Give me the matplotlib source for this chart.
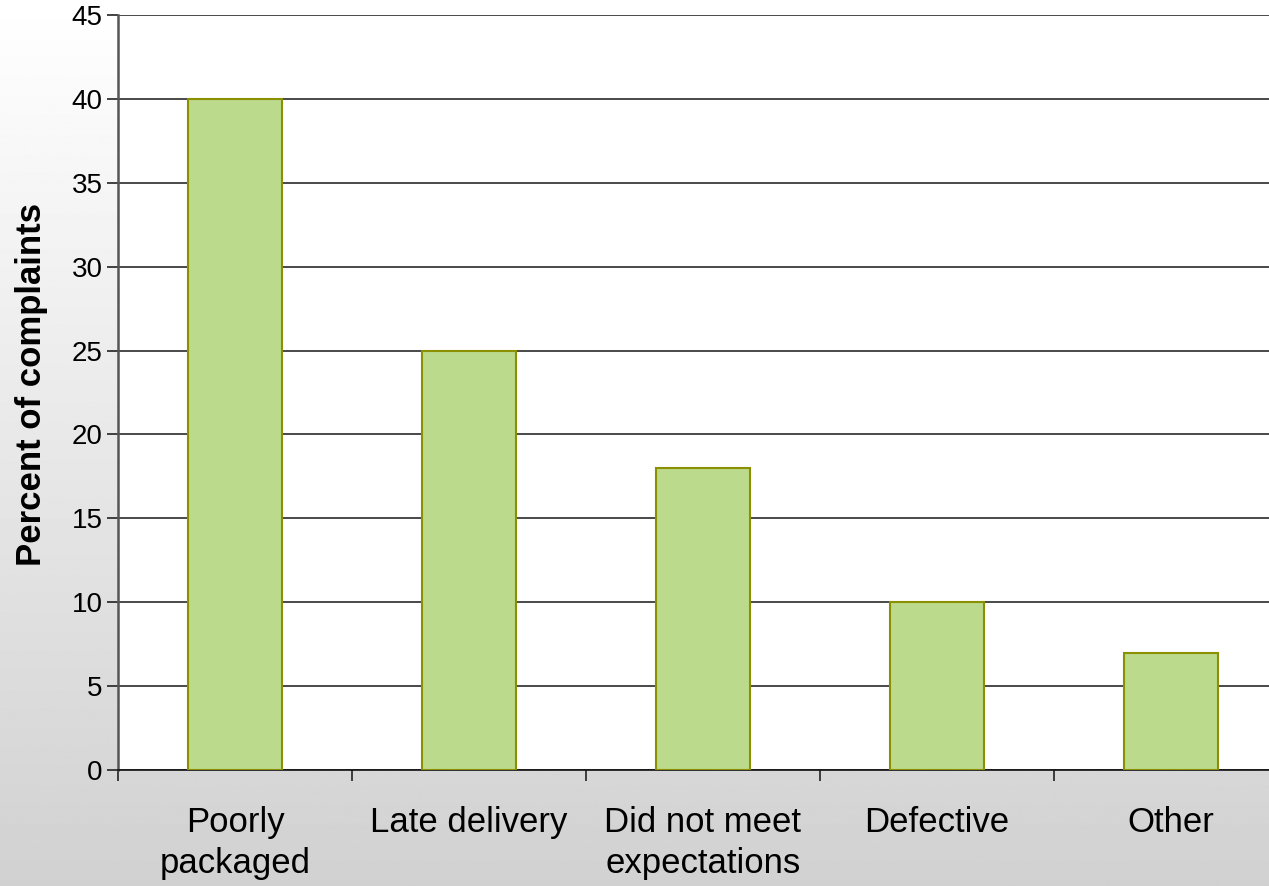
import matplotlib
matplotlib.use("Agg")
import matplotlib.pyplot as plt
import numpy as np

categories = ["Poorly\npackaged", "Late delivery", "Did not meet\nexpectations", "Defective", "Other"]
values = [40, 25, 18, 10, 7]
yticks = [0, 5, 10, 15, 20, 25, 30, 35, 40, 45]

plt.rcParams['font.family'] = ['Liberation Sans', 'DejaVu Sans']

W, H = 1269, 886
fig = plt.figure(figsize=(W / 100, H / 100), dpi=100)

# background gradient
bg = fig.add_axes([0, 0, 1, 1], zorder=-10)
g = np.linspace(0, 1, 400)
col = 1.0 - g * (1.0 - 0xd1 / 255)
img = np.repeat(col[:, None], 2, axis=1)
bg.imshow(img, cmap='gray', vmin=0, vmax=1, aspect='auto', extent=[0, 1, 1, 0])
bg.set_axis_off()

left = 118 / W
right = 1288 / W
bottom = (H - 770) / H
top = (H - 15) / H
ax = fig.add_axes([left, bottom, right - left, top - bottom])
ax.set_facecolor('white')

x = np.arange(len(categories))
ax.bar(x, values, width=0.40, color='#bbda8b', edgecolor='#8a9000', linewidth=1.5, zorder=3)

ax.set_xlim(-0.5, len(categories) - 0.5)
ax.set_ylim(0, 45)
ax.set_yticks(yticks)
ax.yaxis.grid(True, color='#2a2a2a', linewidth=1.2, zorder=0)
ax.set_axisbelow(True)

ax.set_xticks(x)
ax.set_xticklabels(categories, fontsize=25, linespacing=1.3)
ax.tick_params(axis='x', which='major', length=0, pad=26)
ax.set_xticks(np.arange(-0.5, len(categories), 1.0), minor=True)
ax.tick_params(axis='x', which='minor', length=8, width=1.2, color='#222222')
ax.tick_params(axis='y', labelsize=20, length=8, width=1.2, color='#222222', pad=3)

for s in ['top', 'right']:
    ax.spines[s].set_visible(False)
ax.spines['left'].set_color('#555555')
ax.spines['left'].set_linewidth(1.8)
ax.spines['bottom'].set_color('#111111')
ax.spines['bottom'].set_linewidth(1.2)

ax.set_ylabel("Percent of complaints", fontsize=25, fontweight='bold')
ax.yaxis.set_label_coords(-70 / 1170, 0.51)

fig.savefig("out.png", dpi=100)
